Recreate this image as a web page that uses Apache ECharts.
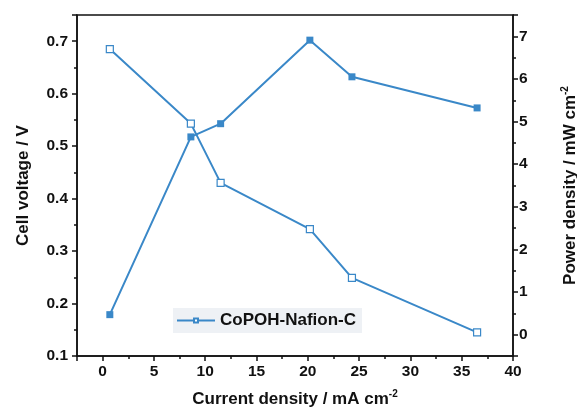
<!DOCTYPE html>
<html>
<head>
<meta charset="utf-8">
<script src="https://cdn.jsdelivr.net/npm/echarts@6/dist/echarts.min.js"></script>
<style>
  html, body { margin: 0; padding: 0; background: #fff; }
  #chart { width: 577px; height: 412px; }
</style>
</head>
<body>
<div id="chart"></div>
<script>
// current density (mA cm-2)
const current = [0.7, 8.6, 11.5, 20.2, 24.3, 36.5];
// cell voltage (V), open squares
const voltage = [0.685, 0.543, 0.43, 0.342, 0.249, 0.145];
// power density (mW cm-2), filled squares
const power = [0.47, 4.64, 4.95, 6.91, 6.05, 5.32];

const blue = '#3a88c8';
const font = 'Liberation Sans, Arial, sans-serif';

const chart = echarts.init(document.getElementById('chart'));

const sup = { fontSize: 10, fontWeight: 'bold', fontFamily: font, color: '#111', padding: [0, 0, 10, 0] };
const tickLabel = { fontFamily: font, fontWeight: 'bold', fontSize: 15.5, color: '#111' };
const title = { fontFamily: font, fontWeight: 'bold', fontSize: 17, color: '#111', rich: { s: sup } };
const axLine = { show: true, onZero: false, lineStyle: { color: '#111', width: 1.5 } };
const major = { show: true, length: 5, lineStyle: { color: '#111', width: 1.5 } };
const minor = { show: true, splitNumber: 2, length: 3, lineStyle: { color: '#111', width: 1.5 } };

const option = {
  animation: false,
  grid: {
    left: 77, right: 64, top: 15, bottom: 56,
    containLabel: false,
    outerBoundsMode: 'none',
    show: true, borderColor: '#111', borderWidth: 1.5
  },
  legend: {
    data: ['CoPOH-Nafion-C'],
    left: 173, top: 308,
    backgroundColor: '#eef1f5',
    padding: [4, 6, 4, 3],
    itemWidth: 38, itemHeight: 5,
    itemGap: 8,
    textStyle: { fontFamily: font, fontWeight: 'bold', fontSize: 17, color: '#111' }
  },
  xAxis: {
    type: 'value',
    min: -2.5, max: 40,
    splitNumber: 9,
    name: 'Current density / mA cm{s|-2}',
    nameLocation: 'middle',
    nameGap: 33,
    nameTextStyle: title,
    axisLine: axLine,
    axisTick: major,
    minorTick: minor,
    axisLabel: Object.assign({ showMinLabel: false, margin: 8 }, tickLabel),
    splitLine: { show: false }
  },
  yAxis: [
    {
      type: 'value',
      min: 0.1, max: 0.75,
      interval: 0.1,
      name: 'Cell voltage / V',
      nameLocation: 'middle',
      nameGap: 45,
      nameTextStyle: title,
      axisLine: axLine,
      axisTick: major,
      minorTick: minor,
      axisLabel: Object.assign({ showMaxLabel: false, margin: 9, formatter: v => v.toFixed(1) }, tickLabel),
      splitLine: { show: false }
    },
    {
      type: 'value',
      position: 'right',
      min: -0.5, max: 7.5,
      splitNumber: 8,
      name: 'Power density / mW cm{s|-2}',
      nameLocation: 'middle',
      nameGap: 47,
      nameTextStyle: title,
      axisLine: axLine,
      axisTick: major,
      minorTick: minor,
      axisLabel: Object.assign({ showMinLabel: false, showMaxLabel: false, margin: 6 }, tickLabel),
      splitLine: { show: false }
    }
  ],
  series: [
    {
      name: 'CoPOH-Nafion-C',
      type: 'line',
      yAxisIndex: 0,
      data: current.map((x, i) => [x, voltage[i]]),
      symbol: 'rect',
      symbolSize: 7,
      lineStyle: { color: blue, width: 2 },
      itemStyle: { color: '#fff', borderColor: blue, borderWidth: 1.2 }
    },
    {
      name: 'Power',
      type: 'line',
      yAxisIndex: 1,
      data: current.map((x, i) => [x, power[i]]),
      symbol: 'rect',
      symbolSize: 7,
      lineStyle: { color: blue, width: 2 },
      itemStyle: { color: blue }
    }
  ]
};

chart.setOption(option);
</script>
</body>
</html>
